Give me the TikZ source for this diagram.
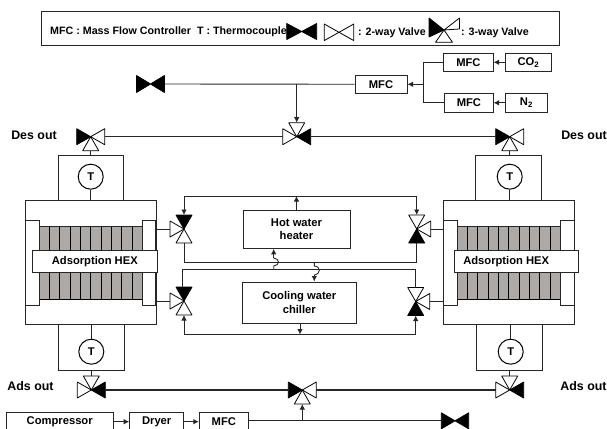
\documentclass[tikz,border=0pt]{standalone}
\usepackage{fontspec}
\setmainfont{Liberation Sans}
\usetikzlibrary{calc,arrows.meta}
\definecolor{hexgray}{HTML}{ACA9A6}
\tikzset{
  line/.style={line width=0.9pt,draw=black!85},
  pipe/.style={line width=1.3pt,draw=black!85},
  arr/.style={line,-{Latex[length=5.5pt,width=5.5pt]}},
  box/.style={draw=black!85,line width=1pt,fill=white,inner sep=0pt,font=\bfseries\fontsize{11.2}{13.6}\selectfont,align=center},
  lab/.style={inner sep=0pt,font=\bfseries\fontsize{12.4}{14}\selectfont},
  leg/.style={inner sep=0pt,anchor=west,font=\bfseries\fontsize{10.7}{12}\selectfont},
  tc/.style={draw=black,line width=1pt,fill=white,circle,minimum size=25pt,inner sep=0pt,font=\bfseries\fontsize{11.2}{13}\selectfont},
  vv/.style={draw=black,line width=0.8pt,line join=bevel},
}
% triangle with its apex at a named point
\newcommand{\tri}[4]{\draw[vv,fill=#4] (#1) -- ($(#1)+(#2)$) -- ($(#1)+(#3)$) -- cycle;}
% two-way valve
\newcommand{\twov}[6]{% name,x,y,hl,hh,fill
  \coordinate (#1) at (#2,#3);
  \coordinate (#1-l) at (#2-#4,#3);
  \coordinate (#1-r) at (#2+#4,#3);
  \tri{#1}{-#4,-#5}{-#4,#5}{#6}
  \tri{#1}{#4,-#5}{#4,#5}{#6}
}
% three-way valve, standard size: name,x,y,left,right,top,bottom fills ("none" leaves it out)
\newcommand{\threev}[7]{%
  \coordinate (#1) at (#2,#3);
  \coordinate (#1-l) at (#2-14,#3);
  \coordinate (#1-r) at (#2+14,#3);
  \coordinate (#1-t) at (#2,#3-14);
  \coordinate (#1-b) at (#2,#3+14);
  \ifx#4n\else\tri{#1}{-14,-8}{-14,8}{#4}\fi
  \ifx#5n\else\tri{#1}{14,-8}{14,8}{#5}\fi
  \ifx#6n\else\tri{#1}{-8,-14}{8,-14}{#6}\fi
  \ifx#7n\else\tri{#1}{-8,14}{8,14}{#7}\fi
}
% heat exchanger: left x
\newcommand{\hex}[2]{% name, x offset
  \begin{scope}[xshift=#2pt]
    \node[box,minimum width=131pt,minimum height=124.4pt] (#1) at (90.5,262.5) {};
    \fill[hexgray] (39,226) rectangle (142.3,299);
    \foreach \i in {0,...,10} {\draw[line,draw=black] ({39+\i*10.33},226) -- ({39+\i*10.33},299);}
    \draw[line,draw=black] (39,299) -- (142.3,299);
    \draw[line] (39,226) -- (142.3,226);
    \node[box,minimum width=14pt,minimum height=85pt] (#1-sl) at (32,262.5) {};
    \node[box,minimum width=13.7pt,minimum height=85pt] (#1-sr) at (149.1,262.5) {};
  \end{scope}
}
\begin{document}
\begin{tikzpicture}[x=1pt,y=-1pt]
\useasboundingbox (0,0) rectangle (607,428);
\clip (0,0) rectangle (607,428);
\fill[white] (0,0) rectangle (607,428);

% legend
\node[box,minimum width=517.5pt,minimum height=34pt] (legend) at (300.25,28.7) {};
\node[leg] (legt) at (50,32) {MFC : Mass Flow Controller\ \ T : Thermocouple};
\twov{legb}{301.7}{31.5}{15}{8}{black}
\twov{legw}{339}{32.3}{14.8}{8.3}{white}
\node[leg] (legtw) at (358,32.5) {: 2-way Valve};
\coordinate (leg3) at (444,30);
\tri{leg3}{-15,-12}{-15,7}{black}
\tri{leg3}{15.5,-12}{15.5,-1}{white}
\tri{leg3}{-8.5,12.3}{8.5,12.3}{white}
\node[leg] (legth) at (461,32.5) {: 3-way Valve};

% gas supply
\node[box,minimum width=52pt,minimum height=18pt] (mfcm) at (381,84.3) {MFC};
\node[box,minimum width=49.3pt,minimum height=18pt] (mfcc) at (468.4,62.3) {MFC};
\node[box,minimum width=48.3pt,minimum height=19pt] (mfcn) at (468.9,102.8) {MFC};
\node[box,minimum width=45.3pt,minimum height=18pt] (co2) at (528.4,62.3) {CO\textsubscript{2}};
\node[box,minimum width=41.3pt,minimum height=19pt] (n2) at (526.4,102.8) {N\textsubscript{2}};
\coordinate (jgas) at (423,84.3);
\draw[arr] (co2) -- (mfcc);
\draw[arr] (n2) -- (mfcn);
\draw[line] (mfcc.west) -| (jgas);
\draw[line] (mfcn.west) -| (jgas);
\draw[arr] (jgas) -- (mfcm);
\twov{vtop}{150.5}{84}{14}{8.5}{black}
\draw[line] (vtop-r) -- (mfcm);
\coordinate (jtop) at (296.7,84);

% desorption line
\threev{desl}{90.7}{136.7}{black}{white}{n}{white}
\threev{desc}{296.7}{136.7}{white}{black}{white}{n}
\threev{desr}{509.7}{136.7}{black}{white}{n}{white}
\draw[arr] (jtop) -- (desc-t);
\draw[pipe] (desl-r) -- (desc-l);
\draw[pipe] (desc-r) -- (desr-l);

% T boxes, upper
\node[box,minimum width=65pt,minimum height=45pt] (tbl) at (90.8,177.8) {};
\node[box,minimum width=65.7pt,minimum height=45pt] (tbr) at (508.8,177.8) {};
\draw[line] (desl-b) -- (tbl.north -| desl-b);
\draw[line] (desr-b) -- (tbr.north -| desr-b);

% T boxes, lower
\node[box,minimum width=65.7pt,minimum height=46pt] (bbl) at (91.8,347.7) {};
\node[box,minimum width=65.7pt,minimum height=46pt] (bbr) at (509.5,347.7) {};

% heat exchangers
\hex{hexl}{0}
\hex{hexr}{418.2}
\node[box,minimum width=125pt,minimum height=22.3pt] (adl) at (94.8,261.8) {Adsorption HEX};
\node[box,minimum width=124.3pt,minimum height=22pt] (adr) at (516.2,261.7) {\hspace{-20pt}Adsorption HEX};

% thermocouples
\node[tc] (t1) at (90.7,176.7) {T};
\node[tc] (t2) at (509.7,176.7) {T};
\node[tc] (t3) at (91.3,351.7) {T};
\node[tc] (t4) at (510.7,351.7) {T};
\draw[line] (t1) -- (t1 |- hexl.north);
\draw[line] (t2) -- (t2 |- hexr.north);
\draw[line] (t3) -- (t3 |- hexl.south);
\draw[line] (t4) -- (t4 |- hexr.south);

% heater and chiller
\node[box,minimum width=107pt,minimum height=38.3pt] (hot) at (296.5,229.2) {Hot water\\heater};
\node[box,minimum width=114pt,minimum height=41pt] (cool) at (299.3,302.5) {Cooling water\\chiller};

% valves of the water circuits
\threev{vul}{184}{229}{white}{n}{black}{white}
\threev{vll}{184}{301}{white}{n}{black}{white}
\threev{vur}{416.7}{229}{n}{white}{white}{black}
\threev{vlr}{415.7}{301.5}{n}{white}{white}{black}
\draw[line] (vul-l) -- (vul-l -| hexl.east);
\draw[line] (vll-l) -- (vll-l -| hexl.east);
\draw[line] (vur-r) -- (vur-r -| hexr.west);
\draw[line] (vlr-r) -- (vlr-r -| hexr.west);

% heater outlet
\coordinate (jhtop) at (296.5,196);
\draw[line] (vul-t |- jhtop) -- (vur-t |- jhtop);
\draw[arr] (hot.north) -- (jhtop);
\draw[arr] (jhtop -| vul-t) -- (vul-t);
\draw[arr] (jhtop -| vur-t) -- (vur-t);
% heater return
\coordinate (rh) at (0,262.3);
\draw[line] (vul-b) -- (vul-b |- rh) -- (vur-b |- rh) -- (vur-b);
% chiller return line
\coordinate (rc) at (0,269.5);
\draw[line] ($(vll-t)+(-2,0)$) -- ($(vll-t |- rc)+(-2,0)$) -- (vlr-t |- rc) -- (vlr-t);
% hops
\coordinate (hopa) at (273.7,269.5);
\coordinate (hopb) at (314.3,262.3);
\draw[line] (hopa) -- (273.7,266) .. controls (280,265.5) and (280,258.5) .. (273.7,258);
\draw[arr] (273.7,258.2) -- (hot.south -| hopa);
\draw[line] (hopb) -- (314.3,266) .. controls (321,266.5) and (321,274) .. (314.3,275);
\draw[arr] (314.3,274.8) -- (cool.north -| hopb);
% chiller outlet
\coordinate (jcb) at (300,334.5);
\draw[line] (vll-b |- jcb) -- (vlr-b |- jcb);
\draw[arr] (cool.south -| jcb) -- (jcb);
\draw[arr] (jcb -| vll-b) -- (vll-b);
\draw[arr] (jcb -| vlr-b) -- (vlr-b);

% adsorption line
\threev{adsl}{91.3}{390}{white}{black}{white}{n}
\threev{adsc}{302.3}{390}{black}{white}{n}{white}
\threev{adsr}{509.7}{390}{white}{black}{white}{n}
\draw[pipe] (adsl-r) -- (adsc-l);
\draw[pipe] (adsc-r) -- (adsr-l);
\draw[line] (adsl-t) -- (adsl-t |- bbl.south);
\draw[line] (adsr-t) -- (adsr-t |- bbr.south);

% air supply
\node[box,minimum width=107.3pt,minimum height=18pt] (comp) at (59.7,421.7) {Compressor};
\node[box,minimum width=54pt,minimum height=18pt] (dry) at (156.7,421.7) {Dryer};
\node[box,minimum width=49pt,minimum height=18pt] (mfcb) at (223.8,421.7) {MFC};
\twov{vbot}{455}{420.8}{13.7}{8}{black}
\draw[arr] (comp) -- (dry);
\draw[arr] (dry) -- (mfcb);
\draw[line] (mfcb.east |- vbot) -- (vbot-l);
\coordinate (jair) at (302.3,420.8);
\draw[arr] (jair) -- (adsc-b);

% side labels
\node[lab] (dl) at (34,135) {Des out};
\node[lab] (dr) at (584,135) {Des out};
\node[lab] (al) at (30.5,386) {Ads out};
\node[lab] (ar) at (583.5,386) {Ads out};
\end{tikzpicture}
\end{document}
